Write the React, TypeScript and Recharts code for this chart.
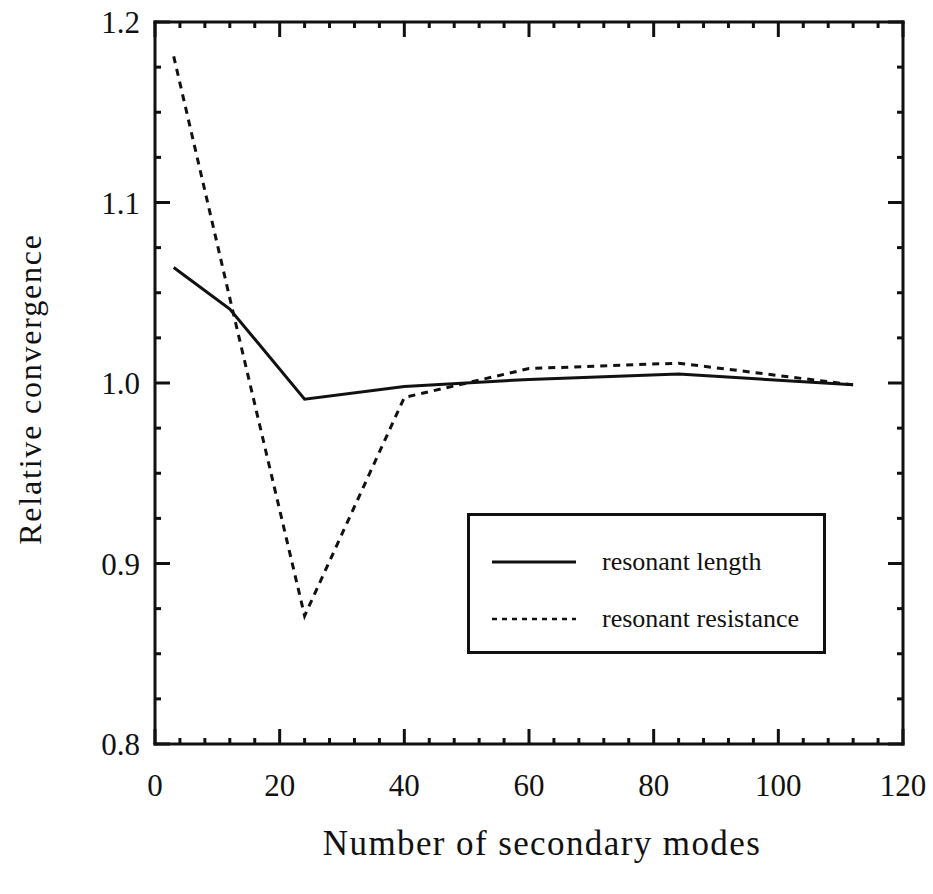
import { Label, Legend, Line, LineChart, XAxis, YAxis } from "recharts";

const modes = [3, 12, 24, 40, 60, 84, 112];
const resonantLength = [1.064, 1.041, 0.991, 0.998, 1.002, 1.005, 0.999];
const resonantResistance = [1.181, 1.047, 0.871, 0.992, 1.008, 1.011, 0.999];

const xMajorTicks = [0, 20, 40, 60, 80, 100, 120];
const xMinorTicks = [4, 8, 12, 16, 24, 28, 32, 36, 44, 48, 52, 56, 64, 68, 72, 76, 84, 88, 92, 96, 104, 108, 112, 116];
const yMajorTicks = [0.8, 0.9, 1.0, 1.1, 1.2];
const yMinorTicks = [0.825, 0.85, 0.875, 0.925, 0.95, 0.975, 1.025, 1.05, 1.075, 1.125, 1.15, 1.175];

const data = modes.map((m, i) => ({
  modes: m,
  length: resonantLength[i],
  resistance: resonantResistance[i],
}));

const FONT = "'Liberation Serif', 'Times New Roman', serif";
const INK = "#111";
const frame = { stroke: INK, strokeWidth: 3, strokeLinecap: "square" as const };
const tickStroke = { stroke: INK, strokeWidth: 3 };
const noTick = () => <g />;
// mirrored axes must have a non-zero size or recharts skips them
const THIN = 0.01;

function XTitle({ viewBox }: any) {
  const cx = viewBox.x + viewBox.width / 2 + 13;
  return (
    <text x={cx} y={viewBox.y + 111} textAnchor="middle" fontFamily={FONT} fontSize={35} letterSpacing={1.4} fill={INK}>
      Number of secondary modes
    </text>
  );
}

function YTitle({ viewBox }: any) {
  const cx = viewBox.x + 30;
  const cy = viewBox.y + viewBox.height / 2 + 6;
  return (
    <text
      x={cx}
      y={cy}
      transform={`rotate(-90, ${cx}, ${cy})`}
      textAnchor="middle"
      dominantBaseline="central"
      fontFamily={FONT}
      fontSize={32}
      letterSpacing={1.8}
      fill={INK}
    >
      Relative convergence
    </text>
  );
}

function LegendBox() {
  const rows = [
    { name: "resonant length", dash: undefined },
    { name: "resonant resistance", dash: "5 5" },
  ];
  return (
    <div
      style={{
        width: 359,
        height: 141,
        boxSizing: "border-box",
        border: `3px solid ${INK}`,
        background: "#fff",
        paddingTop: 17,
        fontFamily: FONT,
        fontSize: 26,
        color: INK,
      }}
    >
      {rows.map((r) => (
        <div key={r.name} style={{ display: "flex", alignItems: "center", height: 57 }}>
          <svg width={132} height={10} style={{ flex: "none" }}>
            <line x1={22} x2={106} y1={5} y2={5} stroke={INK} strokeWidth={r.dash ? 2.5 : 3} strokeDasharray={r.dash} />
          </svg>
          <span>{r.name}</span>
        </div>
      ))}
    </div>
  );
}

export default function App() {
  const xTickAxis = (id: string, orientation: "top" | "bottom", ticks: number[], size: number, line: boolean) => (
    <XAxis
      key={id}
      xAxisId={id}
      dataKey="modes"
      orientation={orientation}
      type="number"
      domain={[0, 120]}
      allowDataOverflow
      ticks={ticks}
      interval={0}
      mirror
      height={THIN}
      tickSize={size}
      tick={noTick}
      tickLine={tickStroke}
      axisLine={line ? frame : false}
    />
  );
  const yTickAxis = (id: string, orientation: "left" | "right", ticks: number[], size: number, line: boolean) => (
    <YAxis
      key={id}
      yAxisId={id}
      orientation={orientation}
      type="number"
      domain={[0.8, 1.2]}
      allowDataOverflow
      ticks={ticks}
      interval={0}
      mirror
      width={THIN}
      tickSize={size}
      tick={noTick}
      tickLine={tickStroke}
      axisLine={line ? frame : false}
    />
  );

  return (
    <div style={{ position: "absolute", left: 0, top: 0, background: "#fff" }}>
      <LineChart width={933} height={894} data={data} margin={{ top: 22, right: 30, bottom: 0, left: 0 }}>
        {/* labelled axes */}
        <XAxis
          dataKey="modes"
          type="number"
          domain={[0, 120]}
          ticks={xMajorTicks}
          interval={0}
          allowDataOverflow
          height={150}
          tickSize={0}
          tickMargin={30}
          tickLine={false}
          axisLine={frame}
          tick={{ fontFamily: FONT, fontSize: 31, fill: INK }}
          label={<Label content={XTitle} />}
        />
        <YAxis
          type="number"
          domain={[0.8, 1.2]}
          ticks={yMajorTicks}
          interval={0}
          allowDataOverflow
          width={155}
          tickSize={0}
          tickMargin={15}
          tickLine={false}
          axisLine={frame}
          tickFormatter={(v: number) => v.toFixed(1)}
          tick={{ fontFamily: FONT, fontSize: 31, fill: INK }}
          label={<Label content={YTitle} />}
        />

        {/* inward tick marks, mirrored so they take no space */}
        {xTickAxis("bMaj", "bottom", xMajorTicks, 15, false)}
        {xTickAxis("bMin", "bottom", xMinorTicks, 6, false)}
        {xTickAxis("tMaj", "top", xMajorTicks, 15, true)}
        {xTickAxis("tMin", "top", xMinorTicks, 6, false)}
        {yTickAxis("lMaj", "left", yMajorTicks, 15, false)}
        {yTickAxis("lMin", "left", yMinorTicks, 6, false)}
        {yTickAxis("rMaj", "right", yMajorTicks, 15, true)}
        {yTickAxis("rMin", "right", yMinorTicks, 6, false)}

        <Legend
          layout="vertical"
          align="center"
          verticalAlign="middle"
          content={<LegendBox />}
          wrapperStyle={{ left: 467, top: 513, width: 359, height: 141 }}
        />

        <Line type="linear" dataKey="length" name="resonant length" stroke={INK} strokeWidth={3} dot={false} isAnimationActive={false} />
        <Line type="linear" dataKey="resistance" name="resonant resistance" stroke={INK} strokeWidth={3} strokeDasharray="7 6" dot={false} isAnimationActive={false} />
      </LineChart>
    </div>
  );
}
